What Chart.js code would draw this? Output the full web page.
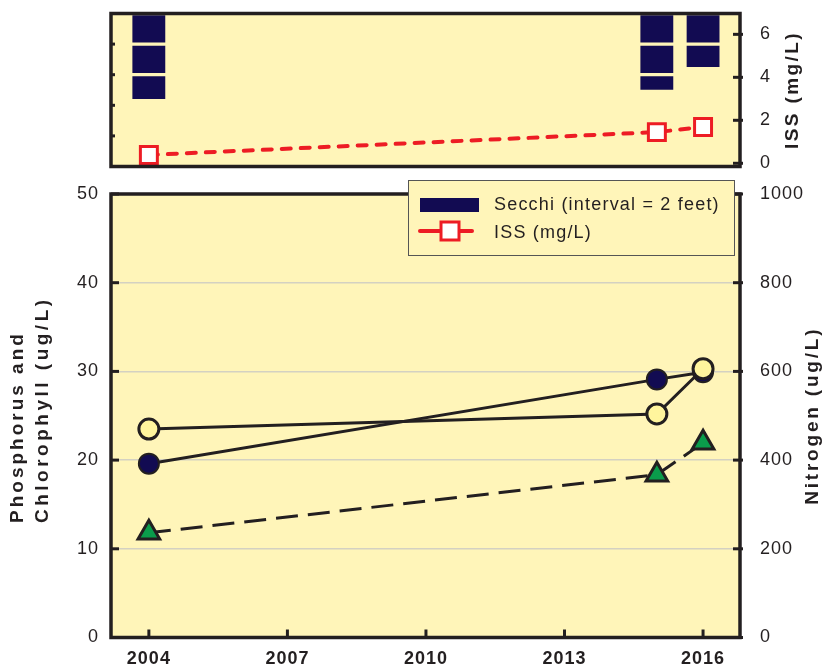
<!DOCTYPE html>
<html>
<head>
<meta charset="utf-8">
<script src="https://cdn.jsdelivr.net/npm/chart.js@4.4.1/dist/chart.umd.min.js"></script>
<style>
  body { margin: 0; background: #fff; }
  #wrap { position: relative; width: 827px; height: 671px; }
  canvas { position: absolute; left: 0; }
  #top { top: 0; }
  #bottom { top: 170px; }
</style>
</head>
<body>
<div id="wrap">
  <canvas id="top" width="827" height="180"></canvas>
  <canvas id="bottom" width="827" height="501"></canvas>
</div>
<script>
// values
var years = [2004, 2015, 2016];
var xTicks = [2004, 2007, 2010, 2013, 2016];
var phosphorus = [19.6, 29.1, 29.9];   // ug/L, left axis
var chlorophyll = [23.5, 25.2, 30.3];  // ug/L, left axis
var nitrogen = [236, 367, 439];        // ug/L, right axis
var secchi = [5.7, 5.1, 3.6];          // feet, drawn in 2 ft blocks
var iss = [0.39, 1.45, 1.69];          // mg/L
var pcTicks = [0, 10, 20, 30, 40, 50];
var nTicks = [0, 200, 400, 600, 800, 1000];
var issTicks = [0, 2, 4, 6];
var secchiTicks = [0, 2, 4, 6, 8, 10];
var legendLabels = ["Secchi (interval = 2 feet)", "ISS (mg/L)"];

var BG = "#fff5b9", INK = "#231f20", NAVY = "#120b52", RED = "#ed1c24";
var GREEN = "#0a9c4b", PALE = "#fff59d", GRID = "#d4d1c2";
var FONT = '"Liberation Sans", Arial, sans-serif';

Chart.defaults.font.family = FONT;
Chart.defaults.color = INK;

function pts(arr) {
    return years.map((x, i) => ({x: x, y: arr[i]}));
}

function fixTicks(list) {
    return (scale) => { scale.ticks = list.map((v) => ({value: v})); };
}

function fixWidth(w) {
    return (scale) => { scale.width = w; scale.paddingTop = 0; scale.paddingBottom = 0; };
}

// panel fill, frame and inward tick marks
var panelPlugin = {
    id: "panel",
    beforeDraw(chart) {
        let a = chart.chartArea, ctx = chart.ctx;
        ctx.letterSpacing = "1px";
        ctx.save();
        ctx.fillStyle = BG;
        ctx.fillRect(a.left, a.top, a.right - a.left, a.bottom - a.top);
        ctx.restore();
    },
    afterDraw(chart, args, opts) {
        let a = chart.chartArea, ctx = chart.ctx;
        ctx.save();
        ctx.strokeStyle = INK;
        ctx.lineWidth = 3;
        (opts.ticks || []).forEach((t) => {
            let sc = chart.scales[t.scale];
            sc.ticks.forEach((tk) => {
                let p = sc.getPixelForValue(tk.value);
                ctx.beginPath();
                if (t.side == "left") { ctx.moveTo(a.left - t.outer, p); ctx.lineTo(a.left + t.inner, p); }
                if (t.side == "right") { ctx.moveTo(a.right + t.outer, p); ctx.lineTo(a.right - t.inner, p); }
                if (t.side == "bottom") { ctx.moveTo(p, a.bottom + t.outer); ctx.lineTo(p, a.bottom - t.inner); }
                ctx.stroke();
            });
        });
        ctx.lineWidth = 3.5;
        ctx.strokeRect(a.left, a.top, a.right - a.left, a.bottom - a.top);
        ctx.restore();
    }
};

// rotated axis titles (bottom-to-top on both sides)
var titlePlugin = {
    id: "titles",
    afterDraw(chart, args, opts) {
        let ctx = chart.ctx, a = chart.chartArea;
        (opts.items || []).forEach((it) => {
            ctx.save();
            ctx.font = "bold 19px " + FONT;
            ctx.letterSpacing = it.spacing + "px";
            ctx.fillStyle = INK;
            ctx.textBaseline = "middle";
            ctx.textAlign = it.align;
            let y = it.y != null ? it.y : (a.top + a.bottom) / 2;
            ctx.translate(it.x, y);
            ctx.rotate(-Math.PI / 2);
            ctx.fillText(it.text, 0, 0);
            ctx.restore();
        });
    }
};

// boxed legend drawn over the top of the lower panel
var legendPlugin = {
    id: "boxLegend",
    afterDraw(chart) {
        let ctx = chart.ctx;
        ctx.save();
        ctx.fillStyle = BG;
        ctx.fillRect(408, 10, 326, 75);
        ctx.strokeStyle = "#555";
        ctx.lineWidth = 1;
        ctx.strokeRect(408.5, 10.5, 326, 75);

        ctx.fillStyle = NAVY;
        ctx.fillRect(420, 28, 59, 14);

        ctx.strokeStyle = RED;
        ctx.lineWidth = 4;
        ctx.lineCap = "round";
        ctx.beginPath();
        ctx.moveTo(420, 61);
        ctx.lineTo(472, 61);
        ctx.stroke();
        ctx.fillStyle = "#fff";
        ctx.lineWidth = 3;
        ctx.fillRect(441, 52, 18, 18);
        ctx.strokeRect(441, 52, 18, 18);

        ctx.font = "18px " + FONT;
        ctx.letterSpacing = "1.2px";
        ctx.fillStyle = INK;
        ctx.textBaseline = "middle";
        ctx.textAlign = "left";
        ctx.fillText(legendLabels[0], 494, 35);
        ctx.fillText(legendLabels[1], 494, 63);
        ctx.restore();
    }
};

// Secchi depth as stacked 2 ft blocks
var blockSets = [];
var nBlocks = Math.ceil(Math.max(...secchi) / 2);
for (let k = 0; k < nBlocks; k++) {
    let data = [];
    for (let i = 0; i < years.length; i++) {
        if (secchi[i] > 2 * k)
            data.push({x: years[i], y: [2 * k, Math.min(2 * k + 2, secchi[i])]});
    }
    blockSets.push({
        type: "bar",
        label: k == 0 ? legendLabels[0] : "",
        data: data,
        yAxisID: "ySecchi",
        backgroundColor: NAVY,
        borderColor: BG,
        borderWidth: {top: 2, bottom: 2, left: 0, right: 0},
        borderSkipped: false,
        barThickness: 33,
        grouped: false
    });
}

var xMin = 2003.18, xMax = 2016.8;
var plain = (v) => String(v);

new Chart(document.getElementById("top"), {
    type: "bar",
    data: {
        datasets: [{
            type: "line",
            label: legendLabels[1],
            data: pts(iss),
            yAxisID: "yIss",
            borderColor: RED,
            borderWidth: 4,
            borderDash: [9, 10],
            borderCapStyle: "round",
            pointStyle: "rect",
            pointRadius: 12,
            pointBackgroundColor: "#fff",
            pointBorderColor: RED,
            pointBorderWidth: 3
        }].concat(blockSets)
    },
    options: {
        responsive: false,
        animation: false,
        devicePixelRatio: 1,
        layout: {padding: {top: 13.5, bottom: 13.5, left: 0, right: 0}, autoPadding: false},
        plugins: {
            legend: {display: false},
            tooltip: {enabled: false},
            panel: {ticks: [
                {scale: "ySecchi", side: "left", inner: 4, outer: 0},
                {scale: "yIss", side: "right", inner: 7, outer: 3}
            ]},
            titles: {items: [{text: "ISS (mg/L)", x: 793, align: "center", spacing: 2.4}]}
        },
        scales: {
            x: {type: "linear", min: xMin, max: xMax, offset: false, display: false},
            ySecchi: {
                position: "left", reverse: true, min: 0, max: 10,
                afterBuildTicks: fixTicks(secchiTicks),
                ticks: {display: false},
                grid: {display: false},
                border: {display: false},
                afterFit: fixWidth(111)
            },
            yIss: {
                position: "right", min: -0.15, max: 6.97,
                afterBuildTicks: fixTicks(issTicks),
                ticks: {callback: plain, font: {size: 18}, padding: 12, color: INK},
                grid: {display: false},
                border: {display: false},
                afterFit: fixWidth(87)
            }
        }
    },
    plugins: [panelPlugin, titlePlugin]
});

new Chart(document.getElementById("bottom"), {
    type: "line",
    data: {
        datasets: [{
            label: "Chlorophyll",
            data: pts(chlorophyll),
            yAxisID: "y",
            borderColor: INK,
            borderWidth: 3,
            pointRadius: 10,
            pointBackgroundColor: PALE,
            pointBorderColor: INK,
            pointBorderWidth: 3
        }, {
            label: "Phosphorus",
            data: pts(phosphorus),
            yAxisID: "y",
            borderColor: INK,
            borderWidth: 3,
            pointRadius: 10,
            pointBackgroundColor: NAVY,
            pointBorderColor: INK,
            pointBorderWidth: 2
        }, {
            label: "Nitrogen",
            data: pts(nitrogen),
            yAxisID: "yN",
            borderColor: INK,
            borderWidth: 3,
            borderDash: [22, 10],
            pointStyle: "triangle",
            pointRadius: 12.5,
            pointBackgroundColor: GREEN,
            pointBorderColor: INK,
            pointBorderWidth: 3
        }]
    },
    options: {
        responsive: false,
        animation: false,
        devicePixelRatio: 1,
        layout: {padding: {top: 24, bottom: 0, left: 0, right: 0}, autoPadding: false},
        plugins: {
            legend: {display: false},
            tooltip: {enabled: false},
            panel: {ticks: [
                {scale: "y", side: "left", inner: 8, outer: 0},
                {scale: "yN", side: "right", inner: 7, outer: 3},
                {scale: "x", side: "bottom", inner: 8, outer: 0}
            ]},
            titles: {items: [
                {text: "Phosphorus and", x: 18, y: 353, align: "left", spacing: 3},
                {text: "Chlorophyll (ug/L)", x: 43, y: 353, align: "left", spacing: 3.5},
                {text: "Nitrogen (ug/L)", x: 813, align: "center", spacing: 2.8}
            ]}
        },
        scales: {
            x: {
                type: "linear", min: xMin, max: xMax, offset: false,
                afterBuildTicks: fixTicks(xTicks),
                ticks: {callback: plain, font: {size: 18, weight: "bold"}, padding: 3, color: INK, maxRotation: 0},
                grid: {display: false},
                border: {display: false},
                afterFit: (s) => { s.height = 33.5; s.paddingLeft = 0; s.paddingRight = 0; }
            },
            y: {
                position: "left", min: 0, max: 50,
                afterBuildTicks: fixTicks(pcTicks),
                ticks: {callback: plain, font: {size: 18}, padding: 12, color: INK},
                grid: {color: GRID, lineWidth: 1.5, drawTicks: false},
                border: {display: false},
                afterFit: fixWidth(111)
            },
            yN: {
                position: "right", min: 0, max: 1000,
                afterBuildTicks: fixTicks(nTicks),
                ticks: {callback: plain, font: {size: 18}, padding: 12, color: INK},
                grid: {display: false},
                border: {display: false},
                afterFit: fixWidth(87)
            }
        }
    },
    plugins: [panelPlugin, titlePlugin, legendPlugin]
});
</script>
</body>
</html>
